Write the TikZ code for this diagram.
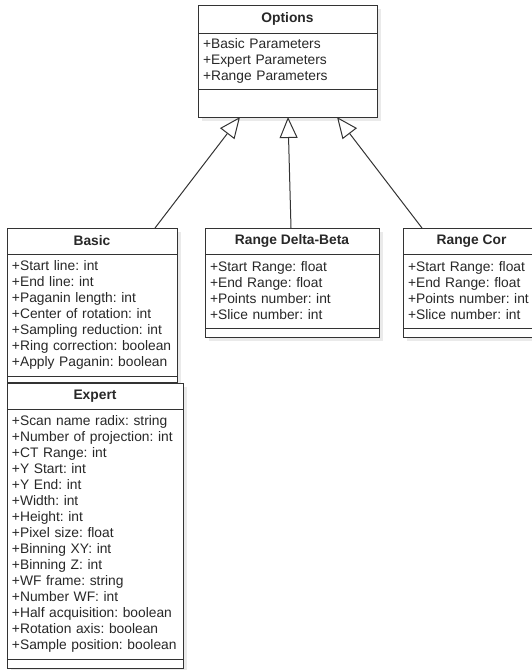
\documentclass[tikz,border=0pt]{standalone}
\usepackage{fontspec}
\setmainfont{Liberation Sans}
\frenchspacing
\usetikzlibrary{arrows.meta,positioning,backgrounds}
\definecolor{umlln}{RGB}{51,51,51}
\definecolor{umltx}{RGB}{40,40,40}
\definecolor{umlsh}{RGB}{234,234,234}
\tikzset{
  hd/.style={draw=umlln,fill=white,line width=1pt,font=\fontsize{13.8}{16}\selectfont\bfseries,text=umltx,inner sep=0pt,outer sep=0pt,anchor=north west,minimum height=26pt},
  attr/.style={draw=umlln,fill=white,line width=1pt,align=left,text=umltx,inner xsep=5pt,inner ysep=0pt,outer sep=0pt,anchor=north west},
  meth/.style={draw=umlln,fill=white,line width=1pt,inner sep=0pt,outer sep=0pt,anchor=north west,minimum height=9pt},
  inh/.style={-{Triangle[open,length=21pt,width=18pt]},draw=umlln,line width=1pt}
}
\begin{document}
\begin{tikzpicture}[x=1pt,y=-1pt,font=\fontsize{13.8}{16}\selectfont]
\useasboundingbox (0,0) rectangle (531,670);
% Options
\node[hd,minimum width=179pt,minimum height=28pt] (hdO) at (198,5) {Options};
\node[attr,text width=169pt,minimum height=56pt] (atO) at (hdO.south west) {+Basic Parameters\\+Expert Parameters\\+Range Parameters};
\node[meth,minimum width=179pt,minimum height=28pt] (mtO) at (atO.south west) {};
% Basic
\node[hd,minimum width=170pt] (hdB) at (7,228) {Basic};
\node[attr,text width=160pt,minimum height=122pt] (atB) at (hdB.south west) {+Start line: int\\+End line: int\\+Paganin length: int\\+Center of rotation: int\\+Sampling reduction: int\\+Ring correction: boolean\\+Apply Paganin: boolean};
\node[meth,minimum width=170pt,minimum height=6pt] (mtB) at (atB.south west) {};
% Expert
\node[hd,minimum width=176pt] (hdE) at (7,383) {Expert};
\node[attr,text width=166pt,minimum height=250pt] (atE) at (hdE.south west) {+Scan name radix: string\\+Number of projection: int\\+CT Range: int\\+Y Start: int\\+Y End: int\\+Width: int\\+Height: int\\+Pixel size: float\\+Binning XY: int\\+Binning Z: int\\+WF frame: string\\+Number WF: int\\+Half acquisition: boolean\\+Rotation axis: boolean\\+Sample position: boolean};
\node[meth,minimum width=176pt] (mtE) at (atE.south west) {};
% Range Delta-Beta
\node[hd,minimum width=174pt] (hdD) at (205,228) {Range Delta-Beta};
\node[attr,text width=164pt,minimum height=74pt] (atD) at (hdD.south west) {+Start Range: float\\+End Range: float\\+Points number: int\\+Slice number: int};
\node[meth,minimum width=174pt] (mtD) at (atD.south west) {};
% Range Cor
\node[hd,minimum width=137pt] (hdC) at (403,228) {Range Cor};
\node[attr,text width=127pt,minimum height=74pt] (atC) at (hdC.south west) {+Start Range: float\\+End Range: float\\+Points number: int\\+Slice number: int};
\node[meth,minimum width=137pt] (mtC) at (atC.south west) {};
% shadows
\begin{scope}[on background layer]
\foreach \c in {O,B,E,D,C}
  \fill[umlsh] ([shift={(4,4)}]hd\c.north west) rectangle ([shift={(4,4)}]mt\c.south east);
\end{scope}
% generalisation
\draw[inh] ([xshift=63pt]hdB.north) -- ([xshift=-47.5pt]mtO.south);
\draw[inh] ([xshift=-1pt]hdD.north) -- ([xshift=0.5pt]mtO.south);
\draw[inh] ([xshift=-49.5pt]hdC.north) -- ([xshift=49.5pt]mtO.south);
\end{tikzpicture}
\end{document}
